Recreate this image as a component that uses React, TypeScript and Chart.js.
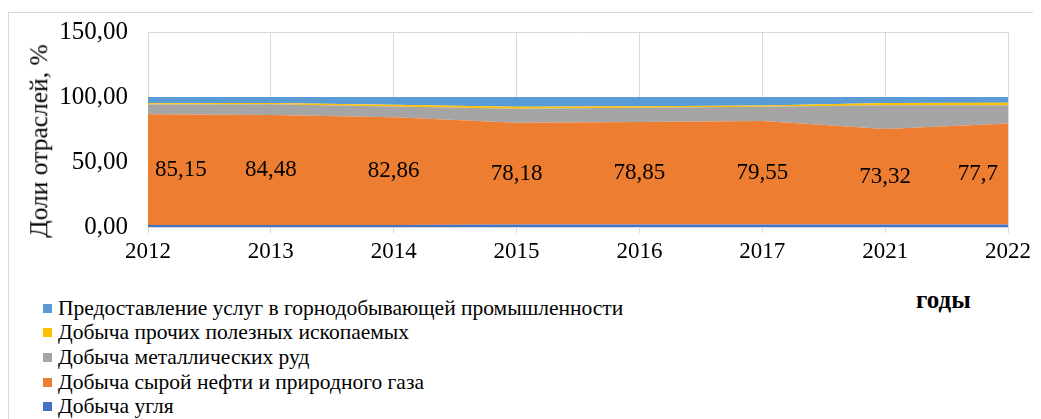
import React, { useEffect, useRef } from "react";
import { Chart, registerables } from "chart.js";

Chart.register(...registerables);

const years = ["2012", "2013", "2014", "2015", "2016", "2017", "2021", "2022"];
const coal = [1.5, 1.6, 1.6, 2.0, 2.0, 2.0, 2.0, 2.0];
const oilGas = [85.15, 84.48, 82.86, 78.18, 78.85, 79.55, 73.32, 77.7];
const metalOres = [7.5, 8.3, 8.3, 10.8, 10.9, 11.0, 18.3, 13.9];
const otherMinerals = [1.0, 1.0, 1.2, 1.5, 1.2, 1.0, 1.8, 2.0];
const miningServices = [4.85, 4.62, 6.04, 7.52, 7.05, 6.45, 4.58, 4.4];

const yTicks = [0, 50, 100, 150];

const seriesNames = [
  "Добыча угля",
  "Добыча сырой нефти и природного газа",
  "Добыча металлических руд",
  "Добыча прочих полезных ископаемых",
  "Предоставление услуг в горнодобывающей промышленности",
];
const seriesColors = ["#4472C4", "#ED7D31", "#A5A5A5", "#FFC000", "#5B9BD5"];
const seriesData = [coal, oilGas, metalOres, otherMinerals, miningServices];

const FONT = '"Liberation Serif", "Times New Roman", serif';

const fmt = (v: number, d?: number) =>
  (d === undefined ? String(v) : v.toFixed(d)).replace(".", ",");

const labelPlugin = {
  id: "oilLabels",
  afterDatasetsDraw(chart: any) {
    const { ctx, chartArea, scales } = chart;
    const xs = scales.x;
    const ys = scales.y;
    ctx.save();
    ctx.font = `23px ${FONT}`;
    ctx.fillStyle = "#000";
    ctx.textAlign = "center";
    ctx.textBaseline = "middle";
    oilGas.forEach((v, i) => {
      const text = fmt(v);
      const w = ctx.measureText(text).width;
      let x = xs.getPixelForValue(i);
      if (x - w / 2 < chartArea.left + 7) x = chartArea.left + 7 + w / 2;
      if (x + w / 2 > chartArea.right - 10) x = chartArea.right - 10 - w / 2;
      const y = ys.getPixelForValue(coal[i] + v / 2);
      ctx.fillText(text, x, y);
    });
    ctx.restore();
  },
};

export default function App() {
  const ref = useRef<HTMLCanvasElement | null>(null);

  useEffect(() => {
    if (!ref.current) return;
    Chart.defaults.font.family = FONT;
    const chart = new Chart(ref.current, {
      type: "line",
      data: {
        labels: years,
        datasets: seriesData.map((d, i) => ({
          label: seriesNames[i],
          data: d,
          backgroundColor: seriesColors[i],
          borderColor: seriesColors[i],
          borderWidth: 0,
          pointRadius: 0,
          fill: i === 0 ? "origin" : "-1",
          tension: 0,
        })),
      },
      options: {
        animation: false,
        responsive: false,
        events: [],
        layout: { padding: { top: 24, left: 0, right: 33, bottom: 0 } },
        plugins: {
          legend: { display: false },
          tooltip: { enabled: false },
        },
        scales: {
          x: {
            offset: false,
            grid: { color: "#d9d9d9", tickLength: 6, drawTicks: true },
            border: { color: "#d9d9d9" },
            ticks: { color: "#000", font: { size: 23, family: FONT }, padding: 5, maxRotation: 0, autoSkip: false },
            afterFit: (axis: any) => {
              axis.height = 51;
            },
          },
          y: {
            stacked: true,
            min: 0,
            max: 150,
            afterBuildTicks: (axis: any) => {
              axis.ticks = yTicks.map((v) => ({ value: v }));
            },
            grid: { color: "#d9d9d9", drawTicks: false },
            border: { color: "#d9d9d9" },
            ticks: {
              color: "#000",
              font: { size: 25, family: FONT },
              padding: 20,
              callback: (v: any) => fmt(Number(v), 2),
            },
            afterFit: (axis: any) => {
              axis.width = 140;
              axis.paddingTop = 0;
              axis.paddingBottom = 0;
            },
          },
        },
      },
      plugins: [labelPlugin],
    });
    return () => chart.destroy();
  }, []);

  const legendOrder = [4, 3, 2, 1, 0];

  return (
    <div style={{ position: "relative", width: 1033, height: 411, fontFamily: FONT, color: "#000" }}>
      <div
        style={{
          position: "absolute",
          left: 0,
          top: 4,
          width: 1033,
          height: 407,
          borderLeft: "1px solid #d9d9d9",
          borderTop: "1px solid #d9d9d9",
          boxSizing: "border-box",
        }}
      />
      <canvas ref={ref} width={1033} height={270} style={{ position: "absolute", left: 0, top: 0 }} />
      <div
        style={{
          position: "absolute",
          left: 31,
          top: 133,
          transform: "translate(-50%, -50%) rotate(-90deg)",
          whiteSpace: "nowrap",
          fontSize: 25.5,
          lineHeight: 1,
        }}
      >
        Доли отраслей, %
      </div>
      <div
        style={{
          position: "absolute",
          left: 908,
          top: 291,
          transform: "translateY(-50%)",
          fontSize: 25,
          fontWeight: "bold",
          lineHeight: 1,
          whiteSpace: "nowrap",
        }}
      >
        годы
      </div>
      <div style={{ position: "absolute", left: 35, top: 288 }}>
        {legendOrder.map((i) => (
          <div key={i} style={{ display: "flex", alignItems: "center", height: 24.6, fontSize: 21.5, whiteSpace: "nowrap" }}>
            <span style={{ display: "inline-block", width: 9, height: 9, background: seriesColors[i], marginRight: 6 }} />
            <span>{seriesNames[i]}</span>
          </div>
        ))}
      </div>
    </div>
  );
}
